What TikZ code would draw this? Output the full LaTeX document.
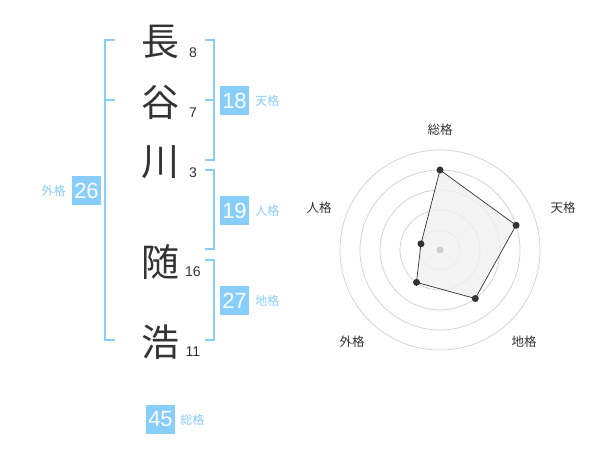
\documentclass[tikz,border=0pt]{standalone}
\usepackage{fontspec}
\usetikzlibrary{calc}
\setmainfont{Liberation Sans}
\newfontfamily\jp{Noto Sans CJK JP}
\definecolor{sky}{HTML}{87CEFA}
\definecolor{ink}{HTML}{333333}
\definecolor{ringc}{HTML}{CFCFCF}
\definecolor{areac}{HTML}{F0F0F0}
\begin{document}
\begin{tikzpicture}[x=1pt,y=-1pt,
 kanji/.style={font=\jp\fontsize{38}{38}\selectfont, text=ink, inner sep=0pt},
 strokes/.style={font=\fontsize{14}{14}\selectfont, text=ink, inner sep=0pt},
 numbox/.style={fill=sky, text=white, minimum size=29pt, inner sep=0pt, font=\fontsize{22}{22}\selectfont},
 kaku/.style={font=\jp\fontsize{12}{12}\selectfont, text=sky, inner sep=0pt},
 brk/.style={draw=sky, line width=2pt},
 ring/.style={draw=ringc, line width=0.7pt},
 axlabel/.style={font=\jp\fontsize{12.5}{12.5}\selectfont, text=ink, inner sep=0pt},
 dot/.style={circle, fill=ink, inner sep=0pt, minimum size=7pt}
]
\useasboundingbox (0,0) rectangle (600,470);
% characters
\node[kanji] (c1) at (160,42) {長};
\node[kanji] (c2) at (160,102) {谷};
\node[kanji] (c3) at (160,162) {川};
\node[kanji] (c4) at (160,262) {随};
\node[kanji] (c5) at (160,342) {浩};
% stroke counts
\node[strokes] (n1) at (193,53) {8};
\node[strokes] (n2) at (193,113) {7};
\node[strokes] (n3) at (193,173) {3};
\node[strokes] (n4) at (193,272) {16};
\node[strokes] (n5) at (193,352) {11};
% brackets
\draw[brk] (115,40) -- (105,40) -- (105,340) -- (115,340);
\draw[brk] (105,100) -- (115,100);
\draw[brk] (205,40) -- (214,40) -- (214,160) -- (205,160);
\draw[brk] (205,100) -- (214,100);
\draw[brk] (205,170) -- (214,170) -- (214,249) -- (205,249);
\draw[brk] (205,260) -- (214,260) -- (214,340) -- (205,340);
% boxes
\node[numbox] (ten) at (234.5,100.5) {18};
\node[kaku, anchor=west] (tenl) at ([xshift=6pt]ten.east) {天格};
\node[numbox] (jin) at (234.5,210.5) {19};
\node[kaku, anchor=west] (jinl) at ([xshift=6pt]jin.east) {人格};
\node[numbox] (chi) at (234.5,300.5) {27};
\node[kaku, anchor=west] (chil) at ([xshift=6pt]chi.east) {地格};
\node[numbox] (gai) at (86.5,190.5) {26};
\node[kaku, anchor=east] (gail) at ([xshift=-6pt]gai.west) {外格};
\node[numbox] (sou) at (160.5,419.5) {45};
\node[kaku, anchor=west] (soul) at ([xshift=5pt]sou.east) {総格};
% radar
\coordinate (O) at (440,250);
\foreach \r in {20,40,60,80,100} \draw[ring] (O) circle[radius=\r];
\coordinate (p1) at ($(O)+(0,-80)$);
\coordinate (p2) at ($(O)+({80*cos(18)},{-80*sin(18)})$);
\coordinate (p3) at ($(O)+({60*cos(54)},{60*sin(54)})$);
\coordinate (p4) at ($(O)+({-40*cos(54)},{40*sin(54)})$);
\coordinate (p5) at ($(O)+({-20*cos(18)},{-20*sin(18)})$);
\filldraw[fill=areac, fill opacity=0.8, draw=ink, line width=0.7pt] (p1) -- (p2) -- (p3) -- (p4) -- (p5) -- cycle;
\node[circle, fill=ringc, inner sep=0pt, minimum size=7pt] (ctr) at (O) {};
\foreach \i in {1,...,5} \node[dot] (d\i) at (p\i) {};
\node[axlabel] (la1) at (440,130) {総格};
\node[axlabel] (la2) at (563,208) {天格};
\node[axlabel] (la3) at (524,342) {地格};
\node[axlabel] (la4) at (352,342) {外格};
\node[axlabel] (la5) at (319,208) {人格};
\end{tikzpicture}
\end{document}
